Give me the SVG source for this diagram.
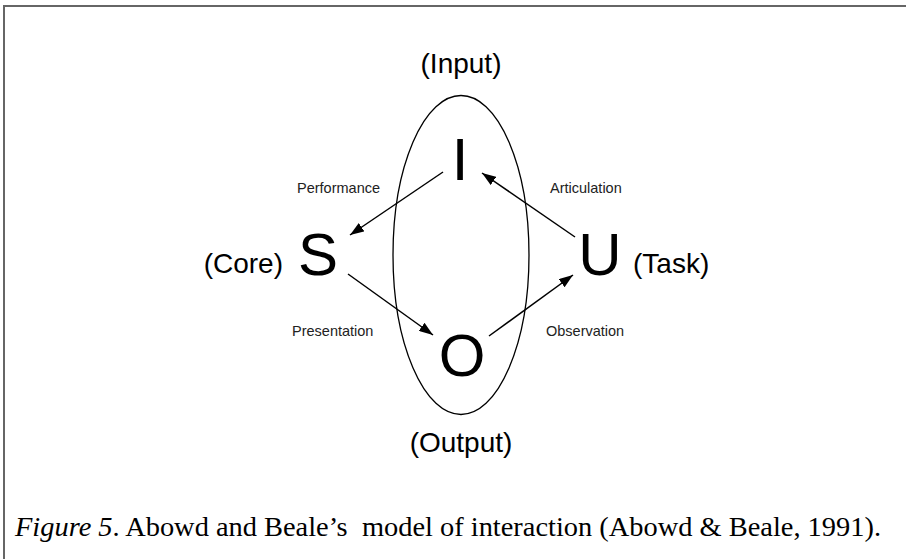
<svg xmlns="http://www.w3.org/2000/svg" width="906" height="559" viewBox="0 0 906 559">
<style>
.big{font-family:"Liberation Sans",Arial,sans-serif;font-size:60px;fill:#000;text-anchor:middle}
.lab{font-family:"Liberation Sans",Arial,sans-serif;font-size:28px;fill:#000}
.sm{font-family:"Liberation Sans",Arial,sans-serif;font-size:14.5px;fill:#222}
.cap{font-family:"Liberation Serif","Times New Roman",serif;font-size:28px;fill:#000}
.conn line{stroke:#000;stroke-width:1.5;fill:none}
</style>
<defs>
<marker id="ah" viewBox="0 0 14 10" refX="14" refY="5" markerWidth="14" markerHeight="10" markerUnits="userSpaceOnUse" orient="auto">
<path d="M0,0 L14,5 L0,10 Z" fill="#000"/>
</marker>
</defs>
<rect x="0" y="0" width="906" height="559" fill="#fff"/>
<path d="M4,559 L4,6 L906,6" fill="none" stroke="#666" stroke-width="2"/>
<g id="ellipse">
<ellipse cx="461" cy="255" rx="68" ry="159.5" fill="none" stroke="#000" stroke-width="1.3"/>
</g>
<g id="node-I"><text class="big" x="460" y="180">I</text><text class="lab" x="461" y="73" text-anchor="middle">(Input)</text></g>
<g id="node-S"><text class="big" x="318" y="275">S</text><text class="lab" x="283" y="273" text-anchor="end">(Core)</text></g>
<g id="node-U"><text class="big" x="600" y="275">U</text><text class="lab" x="633" y="273">(Task)</text></g>
<g id="node-O"><text class="big" x="462" y="376">O</text><text class="lab" x="461" y="452" text-anchor="middle">(Output)</text></g>
<g class="conn" id="connectors">
<line x1="443" y1="172" x2="350" y2="235" marker-end="url(#ah)"/>
<line x1="575" y1="237" x2="482" y2="173" marker-end="url(#ah)"/>
<line x1="348" y1="274" x2="433" y2="335" marker-end="url(#ah)"/>
<line x1="489" y1="336" x2="573" y2="275" marker-end="url(#ah)"/>
</g>
<g id="labels">
<text class="sm" x="297" y="193">Performance</text>
<text class="sm" x="550" y="193">Articulation</text>
<text class="sm" x="292" y="336">Presentation</text>
<text class="sm" x="546" y="336">Observation</text>
</g>
<text class="cap" x="15" y="536" xml:space="preserve" textLength="866" lengthAdjust="spacingAndGlyphs"><tspan font-style="italic">Figure 5</tspan>. Abowd and Beale’s  model of interaction (Abowd &amp; Beale, 1991).</text>
</svg>
